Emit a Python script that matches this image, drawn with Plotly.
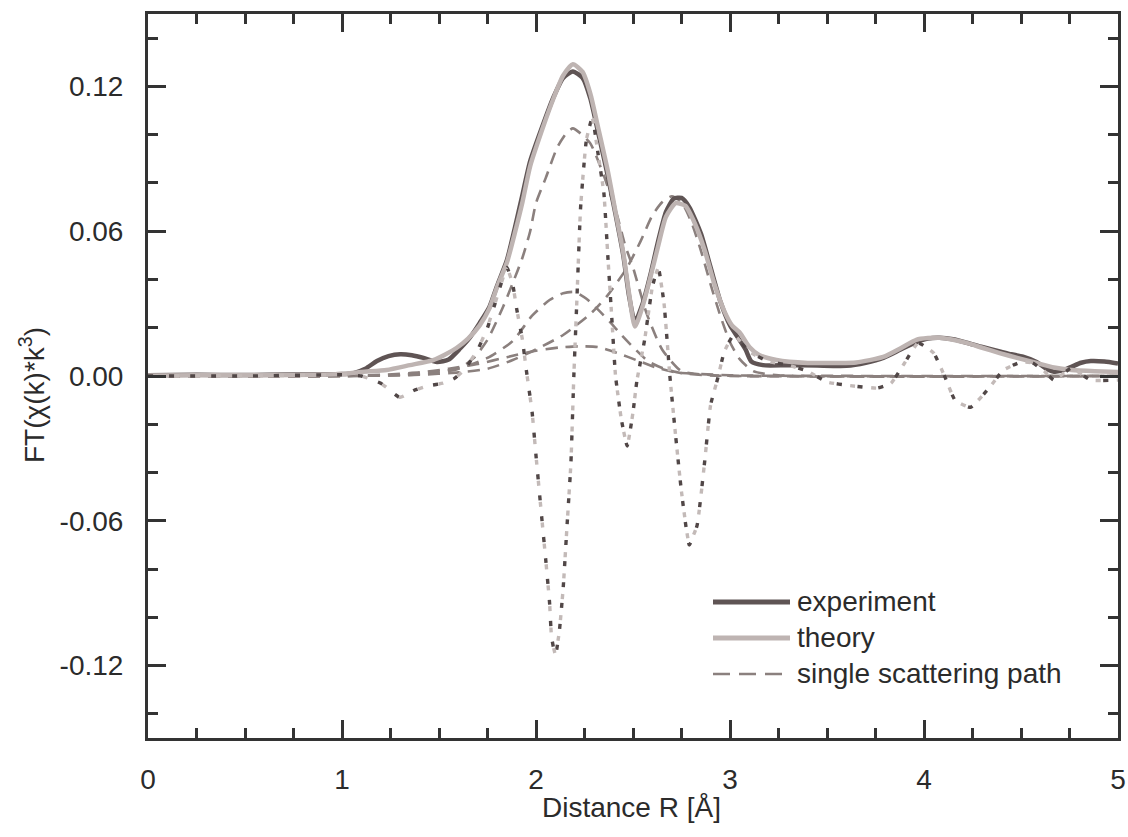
import plotly.graph_objects as go

# ---------------- data ----------------
R_exp = [0, 0.25, 0.5, 0.75, 1.0, 1.06, 1.12, 1.18, 1.24, 1.30, 1.36, 1.42, 1.49, 1.55,
         1.61, 1.66, 1.71, 1.76, 1.80, 1.85, 1.89, 1.93, 1.97, 2.04, 2.09, 2.14, 2.19,
         2.24, 2.28, 2.32, 2.37, 2.41, 2.45, 2.48, 2.51, 2.55, 2.59, 2.63, 2.67, 2.71,
         2.75, 2.79, 2.85, 2.90, 2.95, 3.00, 3.04, 3.08, 3.11, 3.17, 3.3, 3.45, 3.6, 3.7,
         3.79, 3.88, 3.96, 4.02, 4.08, 4.15, 4.22, 4.3, 4.39, 4.45, 4.51, 4.58, 4.63,
         4.67, 4.71, 4.76, 4.81, 4.86, 4.93, 5.0]
experiment = [0.0003, 0.0005, 0.0004, 0.0006, 0.0008, 0.0012, 0.003, 0.0062, 0.0082, 0.009,
              0.0086, 0.0075, 0.0058, 0.0068, 0.0115, 0.016, 0.022, 0.0286, 0.0375, 0.048,
              0.061, 0.075, 0.089, 0.105, 0.1155, 0.1235, 0.1262, 0.1235, 0.115, 0.101, 0.083,
              0.067, 0.050, 0.033, 0.0225, 0.030, 0.042, 0.056, 0.068, 0.0735, 0.0738, 0.070,
              0.059, 0.045, 0.031, 0.021, 0.016, 0.011, 0.006, 0.0045, 0.0045, 0.0043, 0.0042,
              0.0055, 0.0075, 0.011, 0.014, 0.0155, 0.0158, 0.0152, 0.0138, 0.012, 0.0102,
              0.009, 0.008, 0.0058, 0.003, 0.0018, 0.0022, 0.0038, 0.0055, 0.0062, 0.006, 0.0052]

R_th = [0, 0.25, 0.5, 0.75, 1.0, 1.1, 1.23, 1.35, 1.47, 1.53, 1.59, 1.65, 1.71, 1.76, 1.80,
        1.85, 1.89, 1.93, 1.97, 2.04, 2.09, 2.14, 2.19, 2.24, 2.28, 2.32, 2.37, 2.41, 2.45,
        2.48, 2.51, 2.55, 2.59, 2.63, 2.67, 2.72, 2.77, 2.82, 2.87, 2.92, 2.97, 3.01, 3.05,
        3.1, 3.15, 3.24, 3.4, 3.55, 3.65, 3.79, 3.88, 3.96, 4.02, 4.08, 4.15, 4.22, 4.3,
        4.39, 4.48, 4.58, 4.67, 4.76, 4.88, 5.0]
theory = [0.0002, 0.0003, 0.0003, 0.0004, 0.0008, 0.0017, 0.0025, 0.0045, 0.0066, 0.0088,
          0.0116, 0.0155, 0.021, 0.028, 0.037, 0.047, 0.059, 0.072, 0.087, 0.104, 0.115,
          0.1245, 0.1292, 0.126, 0.117, 0.103, 0.085, 0.068, 0.051, 0.034, 0.0205, 0.029,
          0.041, 0.054, 0.066, 0.0716, 0.0705, 0.063, 0.052, 0.038, 0.027, 0.021, 0.018,
          0.012, 0.0087, 0.0066, 0.0054, 0.0054, 0.0056, 0.0079, 0.0115, 0.015, 0.0157,
          0.0158, 0.015, 0.0137, 0.0117, 0.0095, 0.0075, 0.0054, 0.0035, 0.0025, 0.002, 0.0017]

R_im = [0, 0.5, 1.0, 1.1, 1.2, 1.3, 1.37, 1.45, 1.52, 1.58, 1.63, 1.7, 1.75, 1.8, 1.85, 1.88,
        1.9, 1.93, 1.95, 1.98, 2.0, 2.03, 2.05, 2.07, 2.08, 2.1, 2.12, 2.14, 2.16, 2.18, 2.195,
        2.21, 2.23, 2.26, 2.29, 2.32, 2.35, 2.37, 2.39, 2.41, 2.44, 2.47, 2.5, 2.52, 2.56, 2.6,
        2.63, 2.66, 2.69, 2.72, 2.75, 2.79, 2.83, 2.87, 2.9, 2.94, 2.97, 3.02, 3.1, 3.2, 3.3,
        3.4, 3.5, 3.62, 3.76, 3.83, 3.9, 3.97, 4.05, 4.11, 4.16, 4.24, 4.34, 4.41, 4.5, 4.56,
        4.62, 4.67, 4.76, 4.86, 5.0]
imag_experiment = [0, 0.0, 0.0005, 0.0, -0.003, -0.009, -0.006, -0.004, -0.003, -0.001, 0.0025,
                   0.011, 0.02, 0.033, 0.045, 0.038, 0.028, 0.015, 0.0025, -0.015, -0.033,
                   -0.059, -0.076, -0.094, -0.108, -0.116, -0.106, -0.088, -0.062, -0.036, 0.0,
                   0.03, 0.07, 0.098, 0.107, 0.092, 0.0757, 0.05, 0.025, 0.0, -0.018, -0.029,
                   -0.015, -0.002, 0.015, 0.037, 0.045, 0.03, 0.0, -0.025, -0.048, -0.070,
                   -0.062, -0.035, -0.012, 0.0, 0.01, 0.017, 0.01, 0.006, 0.0045, 0.002,
                   -0.0025, -0.004, -0.005, -0.003, 0.0054, 0.0137, 0.0095, -0.0008, -0.01,
                   -0.013, -0.0045, 0.0025, 0.0058, 0.0054, 0.002, -0.0017, 0.0033, -0.0017, -0.0017]
imag_theory = [0, 0.0, 0.0005, 0.0, -0.003, -0.0088, -0.006, -0.004, -0.003, -0.001, 0.0025,
               0.011, 0.0202, 0.033, 0.0448, 0.038, 0.028, 0.015, 0.0025, -0.015, -0.033,
               -0.059, -0.076, -0.094, -0.108, -0.1155, -0.106, -0.088, -0.062, -0.036, 0.0,
               0.03, 0.07, 0.098, 0.1068, 0.092, 0.0757, 0.05, 0.025, 0.0, -0.018, -0.029,
               -0.015, -0.002, 0.015, 0.037, 0.0447, 0.03, 0.0, -0.025, -0.048, -0.0695,
               -0.062, -0.035, -0.012, 0.0, 0.01, 0.017, 0.01, 0.006, 0.0045, 0.002,
               -0.0025, -0.004, -0.005, -0.003, 0.0054, 0.0137, 0.0095, -0.0008, -0.01,
               -0.013, -0.0045, 0.0025, 0.0058, 0.0054, 0.002, -0.0017, 0.0033, -0.0017, -0.0017]

R_pathA = [0, 1.0, 1.3, 1.45, 1.6, 1.68, 1.75, 1.83, 1.88, 1.93, 1.97, 2.0, 2.05, 2.11, 2.16,
           2.19, 2.23, 2.28, 2.35, 2.42, 2.46, 2.5, 2.57, 2.65, 2.75, 2.9, 3.05, 5.0]
pathA = [0, 0, 0.0003, 0.001, 0.003, 0.0075, 0.015, 0.0286, 0.0385, 0.049, 0.060, 0.0716,
         0.082, 0.0948, 0.101, 0.1026, 0.1005, 0.0964, 0.083, 0.066, 0.054, 0.045, 0.026,
         0.011, 0.002, 0.0004, 0, 0]

R_pathB = [0, 1.0, 1.4, 1.6, 1.75, 1.88, 2.0, 2.14, 2.28, 2.37, 2.47, 2.54, 2.6, 2.65, 2.7,
           2.75, 2.8, 2.85, 2.9, 2.95, 3.0, 3.05, 3.12, 3.25, 5.0]
pathB = [0, 0, 0.0005, 0.0015, 0.003, 0.0066, 0.011, 0.017, 0.0257, 0.0335, 0.045, 0.056,
         0.0666, 0.072, 0.0745, 0.072, 0.064, 0.052, 0.038, 0.025, 0.014, 0.007, 0.002, 0.0003, 0]

R_pathC = [0, 1.0, 1.3, 1.5, 1.61, 1.75, 1.88, 1.98, 2.07, 2.14, 2.2, 2.26, 2.32, 2.38, 2.44,
           2.5, 2.58, 2.66, 2.75, 2.9, 5.0]
pathC = [0, 0, 0.0005, 0.0018, 0.0033, 0.0075, 0.0145, 0.025, 0.0315, 0.0343, 0.0348, 0.032,
         0.0275, 0.0225, 0.017, 0.012, 0.006, 0.003, 0.0012, 0.0002, 0]

R_pathD = [0, 1.0, 1.2, 1.4, 1.55, 1.7, 1.85, 2.0, 2.12, 2.22, 2.32, 2.42, 2.52, 2.62, 2.72,
           2.85, 3.0, 3.2, 5.0]
pathD = [0, 0, 0.0005, 0.0015, 0.003, 0.005, 0.0078, 0.0105, 0.0118, 0.0123, 0.012, 0.0095,
         0.0065, 0.0035, 0.0015, 0.0008, 0.0003, 0.0001, 0]

y_tickvals = [-0.12, -0.06, 0.0, 0.06, 0.12]
y_ticktext = ["-0.12", "-0.06", "0.00", "0.06", "0.12"]
x_tickvals = [0, 1, 2, 3, 4, 5]
x_ticktext = ["0", "1", "2", "3", "4", "5"]
x_title = "Distance R [Å]"
y_title = "FT(χ(k)*k<sup>3</sup>)"
legend_labels = ["experiment", "theory", "single scattering path"]

# ---------------- styles ----------------
C_EXP = "#5f5454"
C_TH = "#beb4b2"
C_PATH = "#8b807e"
C_DOT_D = "#514747"
C_DOT_L = "#c3bab8"
C_AX = "#333333"
C_TXT = "#2b2b2b"
FONT = "Liberation Sans, Arial, sans-serif"

fig = go.Figure()

for rr, vv in [(R_pathA, pathA), (R_pathB, pathB), (R_pathC, pathC), (R_pathD, pathD)]:
    fig.add_trace(go.Scatter(x=rr, y=vv, mode="lines", showlegend=False,
                             line=dict(color=C_PATH, width=2.6, dash="12px,8px",
                                       shape="spline", smoothing=0.6),
                             hoverinfo="skip"))

fig.add_trace(go.Scatter(x=R_exp, y=experiment, mode="lines", name="experiment",
                         showlegend=False,
                         line=dict(color=C_EXP, width=4.5, shape="spline", smoothing=0.6)))
fig.add_trace(go.Scatter(x=R_th, y=theory, mode="lines", name="theory",
                         showlegend=False,
                         line=dict(color=C_TH, width=4.5, shape="spline", smoothing=0.6)))
fig.add_trace(go.Scatter(x=R_im, y=imag_experiment, mode="lines", showlegend=False,
                         line=dict(color=C_DOT_D, width=3.4, dash="5px,16px",
                                   shape="spline", smoothing=0.4)))
fig.add_trace(go.Scatter(x=R_im, y=imag_theory, mode="lines", showlegend=False,
                         line=dict(color=C_DOT_L, width=3.4, dash="0px,5px,5px,11px",
                                   shape="spline", smoothing=0.4)))

# ---------------- axes ----------------
PL, PR, PT, PB = 148, 1118, 14, 738
W, H = 1128, 837


def px_x(p):
    return (p - PL) / (PR - PL)


def px_y(p):
    return (PB - p) / (PB - PT)


common = dict(showline=True, linewidth=3, linecolor=C_AX, mirror="allticks",
              ticks="inside", tickwidth=2.5, tickcolor=C_AX, ticklen=18,
              showgrid=False, zeroline=False, automargin=False, tickmode="array",
              tickfont=dict(family=FONT, size=28, color=C_TXT))

fig.update_xaxes(range=[0, 5], tickvals=x_tickvals, ticktext=x_ticktext,
                 minor=dict(tickmode="linear", tick0=0, dtick=0.25, ticks="inside",
                            ticklen=10, tickwidth=2.5, tickcolor=C_AX, showgrid=False),
                 ticklabelstandoff=14, **common)
fig.update_yaxes(range=[-0.15, 0.15], tickvals=y_tickvals, ticktext=y_ticktext,
                 minor=dict(tickmode="linear", tick0=0, dtick=0.02, ticks="inside",
                            ticklen=10, tickwidth=2.5, tickcolor=C_AX, showgrid=False),
                 ticklabelstandoff=16, **common)

# axis titles as annotations (placed like the reference)
annotations = [
    dict(text=y_title, xref="paper", yref="paper",
         x=px_x(32), y=px_y(395), textangle=-90, showarrow=False,
         xanchor="center", yanchor="middle",
         font=dict(family=FONT, size=28, color=C_TXT)),
    dict(text=x_title, xref="paper", yref="paper",
         x=px_x(631), y=px_y(807), showarrow=False,
         xanchor="center", yanchor="middle",
         font=dict(family=FONT, size=28, color=C_TXT)),
]

# ---------------- legend (drawn as shapes + text) ----------------
legend_rows = [602, 638, 674]
legend_styles = [dict(color=C_EXP, width=5, dash="solid"),
                 dict(color=C_TH, width=5, dash="solid"),
                 dict(color=C_PATH, width=2.6, dash="17px,9px")]
shapes = []
for lab, row, st in zip(legend_labels, legend_rows, legend_styles):
    shapes.append(dict(type="line", xref="paper", yref="paper",
                       x0=px_x(713), x1=px_x(790), y0=px_y(row), y1=px_y(row),
                       line=st))
    annotations.append(dict(text=lab, xref="paper", yref="paper",
                            x=px_x(795), y=px_y(row - 1), showarrow=False,
                            xanchor="left", yanchor="middle",
                            font=dict(family=FONT, size=28, color=C_TXT)))

fig.update_layout(width=W, height=H,
                  margin=dict(l=PL, r=W - PR, t=PT, b=H - PB, pad=0, autoexpand=False),
                  paper_bgcolor="white", plot_bgcolor="white",
                  showlegend=False, shapes=shapes, annotations=annotations,
                  font=dict(family=FONT, size=28, color=C_TXT))

fig.write_html("out.html")
